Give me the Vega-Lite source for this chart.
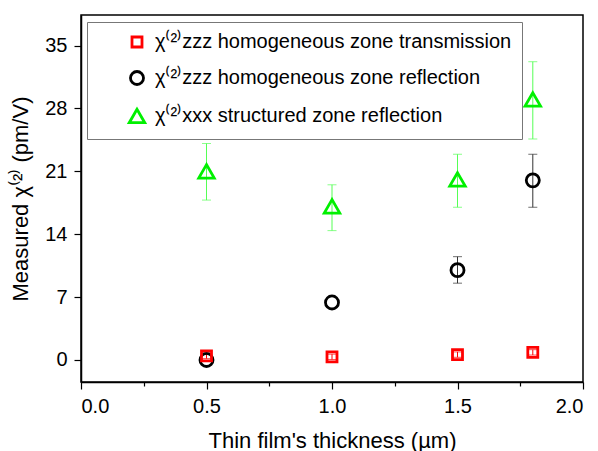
{
  "$schema": "https://vega.github.io/schema/vega-lite/v6.json",
  "width": 502,
  "height": 367,
  "autosize": "none",
  "padding": {"left": 81, "top": 15, "right": 15, "bottom": 69},
  "background": "white",
  "config": {
    "font": "Liberation Sans",
    "view": {"stroke": "black", "strokeWidth": 1.5},
    "axis": {
      "domainColor": "black", "domainWidth": 1.5, "tickColor": "black", "tickWidth": 1.2,
      "labelColor": "black", "titleColor": "black", "labelFont": "Liberation Sans", "titleFont": "Liberation Sans",
      "labelFontSize": 20, "titleFontSize": 22, "titleFontWeight": "normal", "grid": false, "labelOverlap": false
    }
  },
  "data": {"values": [
    {"x": 0.5, "series": "refl", "v": 0.0, "lo": null, "hi": null},
    {"x": 1.0, "series": "refl", "v": 6.4, "lo": null, "hi": null},
    {"x": 1.5, "series": "refl", "v": 10.0, "lo": 8.55, "hi": 11.5},
    {"x": 1.8, "series": "refl", "v": 20.0, "lo": 17.0, "hi": 22.9},
    {"x": 0.5, "series": "struct", "v": 21.0, "lo": 17.8, "hi": 24.1},
    {"x": 1.0, "series": "struct", "v": 17.1, "lo": 14.4, "hi": 19.5},
    {"x": 1.5, "series": "struct", "v": 20.1, "lo": 17.0, "hi": 22.9},
    {"x": 1.8, "series": "struct", "v": 29.0, "lo": 24.6, "hi": 33.2},
    {"x": 0.5, "series": "trans", "v": 0.45, "lo": 0.15, "hi": 0.75},
    {"x": 1.0, "series": "trans", "v": 0.35, "lo": 0.05, "hi": 0.65},
    {"x": 1.5, "series": "trans", "v": 0.6, "lo": 0.3, "hi": 0.9},
    {"x": 1.8, "series": "trans", "v": 0.85, "lo": 0.55, "hi": 1.15}
  ]},
  "resolve": {
    "scale": {"color": "independent", "shape": "independent", "size": "independent"},
    "legend": {"color": "independent", "shape": "independent", "size": "independent"}
  },
  "encoding": {
    "x": {"field": "x", "type": "quantitative",
      "scale": {"domain": [0, 2], "nice": false, "zero": false},
      "axis": {"title": "Thin film's thickness (µm)", "format": ".1f",
        "values": [0, 0.25, 0.5, 0.75, 1.0, 1.25, 1.5, 1.75, 2.0],
        "labelExpr": "datum.value % 0.5 === 0 ? datum.label : ''",
        "tickSize": {"condition": {"test": "datum.value % 0.5 !== 0", "value": 4}, "value": 7},
        "labelPadding": 7, "titlePadding": 14}
    }
  },
  "layer": [
    {
      "layer": [
        {
          "mark": {"type": "rule", "strokeWidth": 1},
          "encoding": {
            "y": {"field": "lo", "type": "quantitative"},
            "y2": {"field": "hi"}
          }
        },
        {
          "mark": {"type": "tick", "orient": "horizontal", "size": 9, "thickness": 1},
          "encoding": {"y": {"field": "lo", "type": "quantitative"}}
        },
        {
          "mark": {"type": "tick", "orient": "horizontal", "size": 9, "thickness": 1},
          "encoding": {"y": {"field": "hi", "type": "quantitative"}}
        }
      ],
      "encoding": {
        "color": {"field": "series", "type": "nominal", "legend": null,
          "scale": {"domain": ["trans", "refl", "struct"], "range": ["#ff0000", "#333333", "#55ff55"]}}
      }
    },
    {
      "mark": {"type": "point", "filled": false, "strokeWidth": 2.8, "opacity": 1},
      "encoding": {
        "y": {"field": "v", "type": "quantitative",
          "scale": {"domain": [-2.45, 38.4], "nice": false, "zero": false},
          "axis": {"title": "Measured χ⁽²⁾ (pm/V)",
            "values": [0, 3.5, 7, 10.5, 14, 17.5, 21, 24.5, 28, 31.5, 35],
            "labelExpr": "datum.value % 7 === 0 ? datum.label : ''",
            "tickSize": {"condition": {"test": "datum.value % 7 !== 0", "value": 4}, "value": 7},
            "labelPadding": 7, "titlePadding": 12}
        },
        "color": {"field": "series", "type": "nominal",
          "scale": {"domain": ["trans", "refl", "struct"], "range": ["#ff0000", "#000000", "#00f000"]},
          "legend": {
            "orient": "none", "legendX": 6, "legendY": 7,
            "title": null,
            "labelExpr": "datum.value === 'trans' ? 'χ⁽²⁾zzz homogeneous zone transmission' : datum.value === 'refl' ? 'χ⁽²⁾zzz homogeneous zone reflection' : 'χ⁽²⁾xxx structured zone reflection'",
            "labelFont": "Liberation Sans", "labelFontSize": 20, "labelColor": "black", "labelLimit": 500,
            "symbolSize": 170, "symbolStrokeWidth": 2.8, "symbolFillColor": "transparent",
            "symbolOffset": 30, "labelOffset": 8, "rowPadding": 12, "padding": 10,
            "strokeColor": "#777777", "fillColor": "white"
          }
        },
        "shape": {"field": "series", "type": "nominal",
          "scale": {"domain": ["trans", "refl", "struct"], "range": ["square", "circle", "triangle-up"]}},
        "size": {"field": "series", "type": "nominal", "legend": null,
          "scale": {"domain": ["trans", "refl", "struct"], "range": [100, 240, 250]}}
      }
    }
  ]
}
